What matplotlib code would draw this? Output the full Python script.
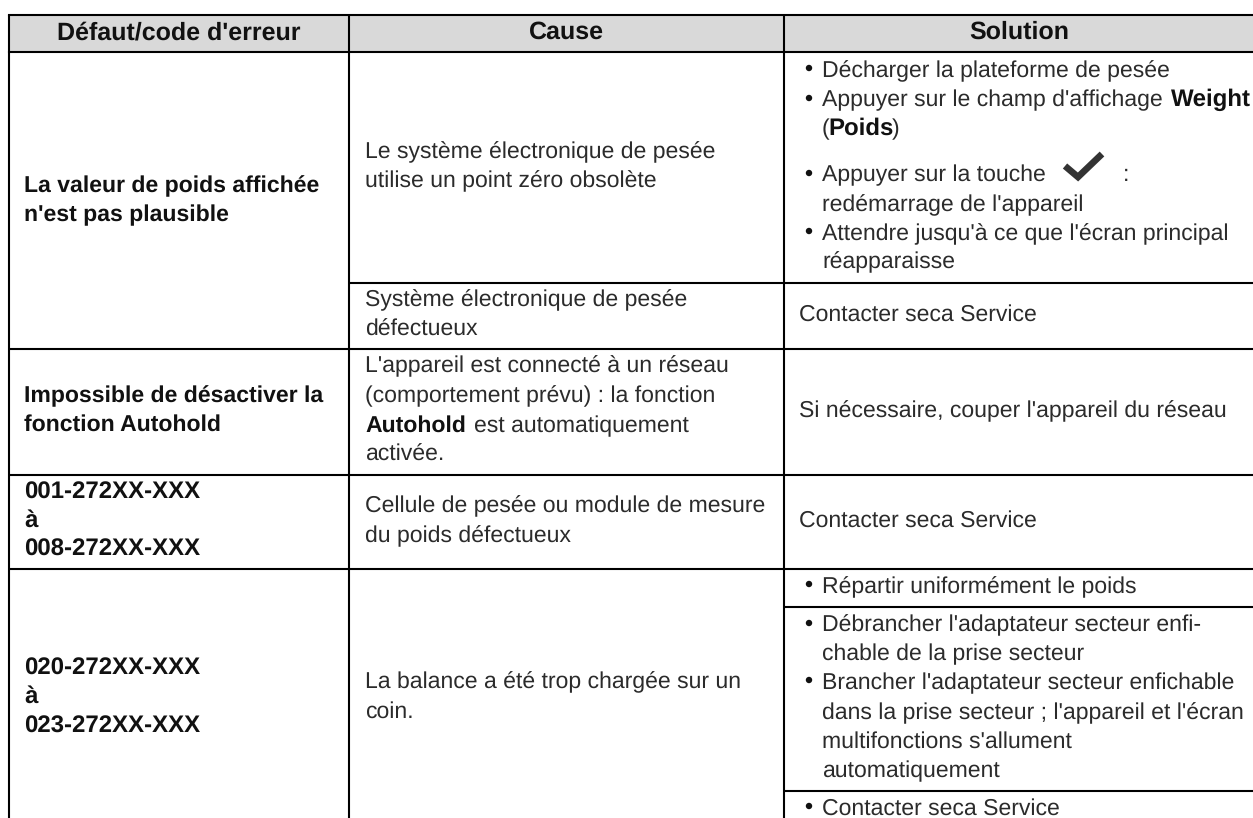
import matplotlib
matplotlib.use("Agg")
import matplotlib.pyplot as plt
from matplotlib.patches import Rectangle, Circle

plt.rcParams["text.hinting"] = "no_hinting"
plt.rcParams["text.hinting_factor"] = 1

W, H = 1253, 818
FONT = "Liberation Sans"
SIZE_CAUSE = 16.4
SIZE_PLAIN = 16.6
BULLET_SIZE = 16.9
BOLD = 16.65
BOLD_BIT = 17.1
BOLD_INLINE = 16.7
HEAD = 17.9
CODE = 17.6

headers = ["Défaut/code d'erreur", "Cause", "Solution"]
header_x = [179, 566, 1019.5]
col_edges = [9, 349, 784]
header_y = (15, 52)

# horizontal rules: (y, x0, x1)
rules = [(283, 349, 1253), (349, 9, 1253), (475, 9, 1253), (569, 9, 1253),
         (607, 784, 1253), (791, 784, 1253)]

col1_lines = [
    (24, 192, "La valeur de poids affichée"),
    (24, 221, "n'est pas plausible"),
    (24, 402, "Impossible de désactiver la"),
    (24, 431, "fonction Autohold"),
]
col1_codes = [
    (24, 499, "001-272XX-XXX"), (24, 527, "à"), (24, 556, "008-272XX-XXX"),
    (24, 675, "020-272XX-XXX"), (24, 703, "à"), (24, 733, "023-272XX-XXX"),
]
col2_lines = [
    (365, 158, "Le système électronique de pesée"),
    (365, 187, "utilise un point zéro obsolète"),
    (365, 306, "Système électronique de pesée"),
    (365, 336, "défectueux"),
    (365, 372, "L'appareil est connecté à un réseau"),
    (365, 402, "(comportement prévu) : la fonction"),
    (474, 432, "est automatiquement"),
    (365, 461, "activée."),
    (365, 512, "Cellule de pesée ou module de mesure"),
    (365, 542, "du poids défectueux"),
    (365, 688, "La balance a été trop chargée sur un"),
    (365, 718, "coin."),
]
col3_plain = [
    (799, 321, "Contacter seca Service"),
    (799, 417, "Si nécessaire, couper l'appareil du réseau"),
    (799, 527, "Contacter seca Service"),
]
col3_bulleted = [
    (822, 77, "Décharger la plateforme de pesée"),
    (822, 106, "Appuyer sur le champ d'affichage"),
    (822, 135, "("),
    (892, 135, ")"),
    (822, 181, "Appuyer sur la touche"),
    (1123, 181, ":"),
    (822, 211, "redémarrage de l'appareil"),
    (822, 240, "Attendre jusqu'à ce que l'écran principal"),
    (822, 268, "réapparaisse"),
    (822, 593, "Répartir uniformément le poids"),
    (822, 631, "Débrancher l'adaptateur secteur enfi-"),
    (822, 660, "chable de la prise secteur"),
    (822, 689, "Brancher l'adaptateur secteur enfichable"),
    (822, 719, "dans la prise secteur ; l'appareil et l'écran"),
    (822, 748, "multifonctions s'allument"),
    (822, 777, "automatiquement"),
    (822, 815, "Contacter seca Service"),
]
bullets = [(809, 68), (809, 98), (809, 173), (809, 231), (809, 584), (809, 623),
           (809, 680), (809, 806)]
bold_bits = [(1171, 106, "Weight"), (828, 135, "Poids")]
bold_inline = [(365, 432, "Autohold")]
check_x = [1065, 1078, 1102]
check_y = [166, 177, 154]

fig = plt.figure(figsize=(W / 100, H / 100), dpi=100)
ax = fig.add_axes([0, 0, 1, 1])
ax.set_xlim(0, W)
ax.set_ylim(H, 0)
ax.axis("off")

ax.add_patch(Rectangle((col_edges[0], header_y[0]), W - col_edges[0], header_y[1] - header_y[0],
                       fc="#d9d9d9", ec="none"))
lw = 1.5
for x in col_edges:
    ax.plot([x, x], [header_y[0], H], color="black", lw=lw, solid_capstyle="butt")
for y in header_y:
    ax.plot([col_edges[0], W], [y, y], color="black", lw=lw, solid_capstyle="projecting")
for y, x0, x1 in rules:
    ax.plot([x0, x1], [y, y], color="black", lw=lw, solid_capstyle="butt")

for x, h in zip(header_x, headers):
    ax.text(x, 39, h, ha="center", va="baseline",
            family=FONT, fontsize=HEAD, fontweight="bold", color="#111111")
for x, y, s in col1_lines:
    ax.text(x, y, s, va="baseline", family=FONT, fontsize=BOLD, fontweight="bold", color="#111111")
for x, y, s in col1_codes:
    ax.text(x, y, s, va="baseline", family=FONT, fontsize=CODE, fontweight="bold", color="#111111")
for x, y, s in col2_lines:
    ax.text(x, y, s, va="baseline", family=FONT, fontsize=SIZE_CAUSE, color="#2b2b2b")
for x, y, s in col3_plain:
    ax.text(x, y, s, va="baseline", family=FONT, fontsize=SIZE_PLAIN, color="#2b2b2b")
for x, y, s in col3_bulleted:
    ax.text(x, y, s, va="baseline", family=FONT, fontsize=BULLET_SIZE, color="#2b2b2b")
for x, y, s in bold_bits:
    ax.text(x, y, s, va="baseline", family=FONT, fontsize=BOLD_BIT, fontweight="bold", color="#111111")
for x, y, s in bold_inline:
    ax.text(x, y, s, va="baseline", family=FONT, fontsize=BOLD_INLINE, fontweight="bold", color="#111111")
for x, y in bullets:
    ax.add_patch(Circle((x, y), 3.2, fc="#111111", ec="none"))
ax.plot(check_x, check_y, color="#333333", lw=4.8, solid_joinstyle="miter", solid_capstyle="butt")
fig.savefig("out.png", dpi=100)
